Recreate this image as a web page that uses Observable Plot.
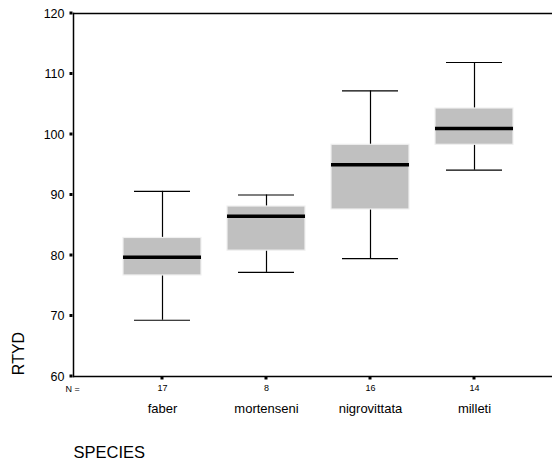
<!DOCTYPE html>
<html>
<head>
<meta charset="utf-8">
<script src="https://cdn.jsdelivr.net/npm/d3@7"></script>
<script src="https://cdn.jsdelivr.net/npm/@observablehq/plot@0.6"></script>
<style>
  html, body { margin: 0; padding: 0; background: #fff; }
  #chart svg { display: block; }
</style>
</head>
<body>
<div id="chart"></div>
<script>
const species = ["faber", "mortenseni", "nigrovittata", "milleti"];
const nCounts = [17, 8, 16, 14];
const whiskerLow = [69.3, 77.2, 79.5, 94.1];
const q1 = [76.7, 80.8, 87.6, 98.3];
const median = [79.7, 86.5, 95.0, 101.0];
const q3 = [82.9, 88.1, 98.3, 104.3];
const whiskerHigh = [90.6, 90.0, 107.2, 111.9];
const yTicks = [60, 70, 80, 90, 100, 110, 120];

const data = species.map((s, i) => ({
  species: s, n: nCounts[i], lo: whiskerLow[i], q1: q1[i],
  med: median[i], q3: q3[i], hi: whiskerHigh[i]
}));
const nBySpecies = new Map(data.map(d => [d.species, d.n]));

const font = "'Liberation Sans', Arial, sans-serif";
const W = 552, H = 461, mT = 13, mB = 85, mL = 73, mR = 0;

const chart = Plot.plot({
  width: W,
  height: H,
  marginTop: mT,
  marginBottom: mB,
  marginLeft: mL,
  marginRight: mR,
  style: { fontFamily: font, background: "#fff", color: "#000" },
  x: { type: "band", domain: species, range: [123, 513], paddingInner: 0.25, paddingOuter: 0, align: 0 },
  y: { domain: [60, 120], range: [376, 13] },
  marks: [
    Plot.frame({ anchor: "top", stroke: "#000", strokeWidth: 1.5 }),
    Plot.frame({ anchor: "left", stroke: "#000", strokeWidth: 1.5 }),
    Plot.frame({ anchor: "bottom", stroke: "#000", strokeWidth: 1.5 }),
    Plot.axisY({ ticks: yTicks, tickSize: 0, tickPadding: 9, fontSize: 12.5, label: null, tickFormat: d => d }),
    Plot.axisX({ tickSize: 0, tickPadding: 8, fontSize: 9, label: null, tickFormat: d => nBySpecies.get(d) }),
    Plot.axisX({ tickSize: 0, tickPadding: 27, fontSize: 13, label: null }),
    Plot.text(["N ="], { frameAnchor: "bottom-left", dx: -1, dy: 13, fontSize: 9, fill: "#000", textAnchor: "middle", lineAnchor: "middle" }),
    Plot.text(["RTYD"], { frameAnchor: "bottom-left", dx: -55, dy: -23, rotate: -90, fontSize: 16, fill: "#000", textAnchor: "middle", lineAnchor: "middle" }),
    Plot.text(["SPECIES"], { frameAnchor: "bottom-left", dx: 0, dy: 76, fontSize: 16.5, fill: "#000", textAnchor: "start", lineAnchor: "middle" }),
    Plot.ruleX(data, { x: "species", y1: "lo", y2: "hi", stroke: "#000", strokeWidth: 1.2 }),
    Plot.tickY(data, { x: "species", y: "lo", stroke: "#000", strokeWidth: 1.2, insetLeft: 11, insetRight: 11 }),
    Plot.tickY(data, { x: "species", y: "hi", stroke: "#000", strokeWidth: 1.2, insetLeft: 11, insetRight: 11 }),
    Plot.barY(data, { x: "species", y1: "q1", y2: "q3", fill: "#c0c0c0", stroke: "#f0f0f0", strokeWidth: 1.2 }),
    Plot.tickY(data, { x: "species", y: "med", stroke: "#000", strokeWidth: 3.5 })
  ]
});

// small square tick marks, positioned through the plot's own scales
const sx = chart.scale("x");
const sy = chart.scale("y");
const fx = sx.apply ? (v => sx.apply(v)) : d3.scaleBand(sx.domain, sx.range).paddingInner(0.25).paddingOuter(0);
const fy = sy.apply ? (v => sy.apply(v)) : d3.scaleLinear(sy.domain, sy.range);
const bw = sx.bandwidth ?? 0;
const svg = d3.select(chart.tagName.toLowerCase() === "svg" ? chart : chart.querySelector("svg"));
const tg = svg.append("g").attr("fill", "#000");
for (const v of yTicks) {
  tg.append("rect").attr("x", mL - 3.5).attr("y", fy(v) - 1.5).attr("width", 3).attr("height", 3);
}
for (const s of species) {
  tg.append("rect").attr("x", fx(s) + bw / 2 - 1.5).attr("y", H - mB + 0.5).attr("width", 3).attr("height", 3);
}

document.getElementById("chart").appendChild(chart);
</script>
</body>
</html>
